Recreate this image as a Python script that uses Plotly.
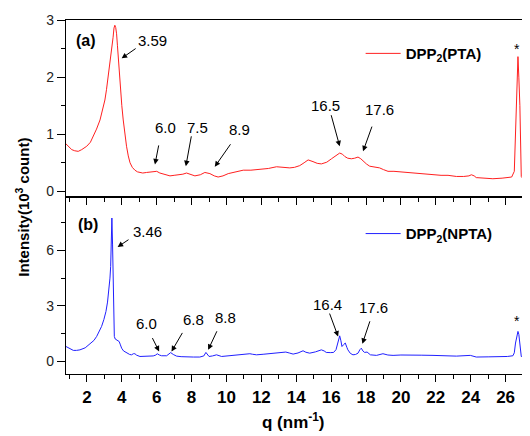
import plotly.graph_objects as go
from plotly.subplots import make_subplots

# ---------------- data ----------------
top_q = [0.8, 0.95, 1.13, 1.3, 1.5, 1.7, 1.99, 2.2, 2.36, 2.55, 2.75, 2.9, 3.03, 3.12, 3.22, 3.32, 3.42, 3.5,
         3.55, 3.6, 3.65, 3.7, 3.75, 3.8, 3.87, 3.93, 4.0, 4.08, 4.17, 4.27, 4.37, 4.47, 4.6, 4.75, 4.9, 5.04,
         5.2, 5.42, 5.6, 5.8, 6.0, 6.18, 6.4, 6.57, 6.76, 7.0, 7.33, 7.5, 7.71, 7.95, 8.19, 8.5, 8.76, 9.05,
         9.3, 9.52, 9.8, 10.1, 10.5, 10.96, 11.4, 11.91, 12.4, 12.87, 13.25, 13.63, 13.9, 14.2, 14.45, 14.68,
         14.96, 15.2, 15.44, 15.75, 16.02, 16.25, 16.49, 16.65, 16.78, 16.95, 17.16, 17.35, 17.54, 17.7,
         17.85, 18.02, 18.21, 18.5, 18.78, 19.0, 19.26, 19.6, 20.0, 20.5, 21.0, 21.4, 21.84, 22.3, 22.7,
         23.18, 23.6, 23.9, 24.04, 24.2, 24.32, 24.8, 25.27, 25.8, 26.2, 26.35, 26.5, 26.6, 26.65, 26.71,
         26.76, 26.82, 26.9, 27.0, 27.2, 27.38]
top_I = [0.83, 0.78, 0.73, 0.71, 0.70, 0.73, 0.79, 0.86, 0.96, 1.09, 1.25, 1.42, 1.6, 1.78, 2.0, 2.23, 2.47, 2.7,
         2.86, 2.91, 2.87, 2.76, 2.55, 2.30, 2.02, 1.77, 1.50, 1.25, 1.01, 0.79, 0.62, 0.50, 0.42, 0.37, 0.34,
         0.33, 0.32, 0.33, 0.34, 0.35, 0.35, 0.32, 0.30, 0.28, 0.27, 0.28, 0.29, 0.30, 0.32, 0.30, 0.27, 0.29,
         0.33, 0.31, 0.27, 0.25, 0.27, 0.31, 0.34, 0.37, 0.37, 0.38, 0.40, 0.43, 0.42, 0.41, 0.42, 0.45, 0.50,
         0.55, 0.52, 0.49, 0.48, 0.51, 0.57, 0.62, 0.67, 0.65, 0.61, 0.58, 0.57, 0.58, 0.60, 0.57, 0.52, 0.48,
         0.44, 0.42, 0.41, 0.38, 0.35, 0.35, 0.34, 0.32, 0.31, 0.30, 0.29, 0.28, 0.28, 0.26, 0.26, 0.27, 0.29,
         0.27, 0.24, 0.23, 0.22, 0.23, 0.24, 0.25, 0.35, 1.2, 1.9, 2.36, 2.0, 1.5, 0.26, 0.22, 0.22, 0.22]

bot_q = [0.8, 1.0, 1.22, 1.4, 1.6, 1.9, 2.17, 2.4, 2.56, 2.7, 2.84, 2.97, 3.09, 3.18, 3.26, 3.32, 3.36, 3.4,
         3.43, 3.47, 3.51, 3.54, 3.57, 3.62, 3.7, 3.78, 3.85, 3.92, 3.99, 4.1, 4.28, 4.45, 4.56, 4.66, 4.75,
         4.85, 5.04, 5.3, 5.51, 5.8, 5.95, 6.03, 6.15, 6.28, 6.57, 6.7, 6.8, 6.95, 7.14, 7.4, 7.71, 8.1,
         8.47, 8.7, 8.82, 8.9, 9.0, 9.2, 9.43, 9.72, 10.1, 10.58, 11.0, 11.34, 11.5, 11.72, 12.1, 12.48,
         12.9, 13.4, 13.6, 13.82, 14.1, 14.39, 14.55, 14.77, 15.1, 15.44, 15.6, 15.72, 15.95, 16.14, 16.28,
         16.36, 16.49, 16.56, 16.62, 16.72, 16.81, 16.9, 16.96, 17.1, 17.25, 17.4, 17.54, 17.65, 17.73,
         17.82, 17.92, 18.06, 18.25, 18.6, 18.97, 19.25, 19.55, 20.0, 20.5, 21.2, 21.84, 22.5, 23.18,
         23.98, 24.32, 25.0, 25.66, 26.1, 26.42, 26.5, 26.57, 26.64, 26.71, 26.76, 26.8, 26.85, 26.9,
         27.1, 27.38]
bot_I = [0.79, 0.68, 0.58, 0.58, 0.61, 0.72, 0.94, 1.12, 1.34, 1.58, 1.88, 2.25, 2.69, 3.2, 3.87, 4.5, 5.13,
         6.4, 7.76, 6.3, 4.23, 2.4, 1.34, 1.2, 1.16, 1.12, 1.06, 0.88, 0.70, 0.55, 0.43, 0.36, 0.34, 0.40,
         0.40, 0.32, 0.25, 0.26, 0.25, 0.28, 0.33, 0.40, 0.33, 0.29, 0.29, 0.36, 0.46, 0.36, 0.27, 0.24,
         0.22, 0.22, 0.22, 0.28, 0.47, 0.35, 0.25, 0.28, 0.34, 0.25, 0.28, 0.34, 0.36, 0.40, 0.37, 0.34,
         0.37, 0.40, 0.42, 0.49, 0.44, 0.38, 0.44, 0.56, 0.48, 0.43, 0.50, 0.61, 0.55, 0.47, 0.46, 0.47,
         0.62, 0.98, 1.37, 1.1, 0.79, 0.9, 0.98, 0.75, 0.61, 0.42, 0.34, 0.36, 0.43, 0.62, 0.70, 0.55, 0.47,
         0.49, 0.34, 0.31, 0.40, 0.33, 0.31, 0.33, 0.34, 0.32, 0.31, 0.30, 0.27, 0.31, 0.22, 0.23, 0.22,
         0.25, 0.29, 0.45, 0.98, 1.4, 1.61, 1.45, 0.98, 0.5, 0.25, 0.22, 0.22]

top_name = "DPP<sub>2</sub>(PTA)"
bot_name = "DPP<sub>2</sub>(NPTA)"

top_labels = ["3.59", "6.0", "7.5", "8.9", "16.5", "17.6"]
bot_labels = ["3.46", "6.0", "6.8", "8.8", "16.4", "17.6"]

# label centre, arrow tail, arrow tip (data coordinates)
top_text_pos = [(5.78, 2.65), (6.53, 1.11), (8.34, 1.11), (10.77, 1.08), (15.69, 1.50), (18.78, 1.43)]
top_tail = [(4.88, 2.52), (6.13, 0.83), (8.0, 0.99), (10.29, 0.85), (15.98, 1.36), (18.37, 1.16)]
top_tip = [(3.99, 2.33), (5.9, 0.47), (7.67, 0.44), (9.33, 0.43), (16.49, 0.79), (17.83, 0.70)]

bot_text_pos = [(5.5, 7.03), (5.42, 2.06), (8.13, 2.24), (9.96, 2.35), (15.81, 3.05), (18.44, 2.88)]
bot_tail = [(4.47, 6.64), (5.71, 1.33), (7.52, 1.61), (9.49, 1.70), (15.88, 2.66), (18.25, 2.24)]
bot_tip = [(3.76, 6.19), (6.14, 0.52), (6.85, 0.52), (8.95, 0.61), (16.4, 1.33), (17.79, 0.94)]

FONT = "Liberation Sans, Arial, sans-serif"

fig = make_subplots(rows=2, cols=1, shared_xaxes=True, vertical_spacing=0)

fig.add_trace(go.Scatter(x=top_q, y=top_I, mode="lines", name=top_name,
                         line=dict(color="#ff2020", width=1), legend="legend"), row=1, col=1)
fig.add_trace(go.Scatter(x=bot_q, y=bot_I, mode="lines", name=bot_name,
                         line=dict(color="#2020ff", width=1), legend="legend2"), row=2, col=1)

annotations = []
for lab, (tx, ty), (ax_, ay_), (px, py) in zip(top_labels, top_text_pos, top_tail, top_tip):
    annotations.append(dict(x=tx, y=ty, xref="x", yref="y", text=lab, showarrow=False,
                            font=dict(family=FONT, size=15, color="black")))
    annotations.append(dict(x=px, y=py, xref="x", yref="y", ax=ax_, ay=ay_, axref="x", ayref="y",
                            text="", showarrow=True, arrowhead=2, arrowsize=1.1, arrowwidth=1,
                            arrowcolor="black", standoff=0, startstandoff=0))
for lab, (tx, ty), (ax_, ay_), (px, py) in zip(bot_labels, bot_text_pos, bot_tail, bot_tip):
    annotations.append(dict(x=tx, y=ty, xref="x2", yref="y2", text=lab, showarrow=False,
                            font=dict(family=FONT, size=15, color="black")))
    annotations.append(dict(x=px, y=py, xref="x2", yref="y2", ax=ax_, ay=ay_, axref="x2", ayref="y2",
                            text="", showarrow=True, arrowhead=2, arrowsize=1.1, arrowwidth=1,
                            arrowcolor="black", standoff=0, startstandoff=0))

annotations += [
    dict(x=26.95, y=2.5, xref="x", yref="y", xanchor="right", text="*", showarrow=False,
         font=dict(family=FONT, size=14, color="black")),
    dict(x=26.95, y=2.15, xref="x2", yref="y2", xanchor="right", text="*", showarrow=False,
         font=dict(family=FONT, size=14, color="black")),
    dict(x=1.95, y=2.65, xref="x", yref="y", text="<b>(a)</b>", showarrow=False,
         font=dict(family=FONT, size=16, color="black")),
    dict(x=2.05, y=7.4, xref="x2", yref="y2", text="<b>(b)</b>", showarrow=False,
         font=dict(family=FONT, size=16, color="black")),
    dict(x=-0.093, y=0.472, xref="paper", yref="paper", xanchor="center", yanchor="middle",
         text="<b>Intensity(10<sup>3</sup> count)</b>",
         textangle=-90, showarrow=False, font=dict(family=FONT, size=15, color="black")),
    dict(x=0.49, y=-0.134, xref="paper", yref="paper", xanchor="center", yanchor="middle",
         text="<b>q (nm<sup>-1</sup>)</b>",
         showarrow=False, font=dict(family=FONT, size=17, color="black")),
]

xcommon = dict(range=[0.8, 27.4], showline=True, linecolor="black", linewidth=1.2, mirror=True,
               ticks="outside", ticklen=7, tickwidth=1, tickcolor="black", tick0=0, dtick=2,
               minor=dict(dtick=1, ticklen=4, ticks="outside", tickcolor="black"),
               showgrid=False, zeroline=False)
fig.update_xaxes(**xcommon, showticklabels=False, row=1, col=1)
fig.update_xaxes(**xcommon, showticklabels=True,
                 tickfont=dict(family=FONT, size=17, color="black", weight="bold"), row=2, col=1)

ycommon = dict(showline=True, linecolor="black", linewidth=1.2, mirror=False, ticks="outside",
               ticklen=8, tickwidth=1, tickcolor="black", showgrid=False, zeroline=False,
               tickfont=dict(family=FONT, size=14, color="#222"))
fig.update_yaxes(**ycommon, range=[-0.1, 3.002], tick0=0, dtick=1,
                 minor=dict(dtick=0.5, ticklen=4, ticks="outside", tickcolor="black"), row=1, col=1)
fig.update_yaxes(**ycommon, range=[-0.7, 8.9], tick0=0, dtick=3,
                 minor=dict(dtick=1.5, ticklen=4, ticks="outside", tickcolor="black"), row=2, col=1)

legend_common = dict(bgcolor="rgba(0,0,0,0)", borderwidth=0, xanchor="left", yanchor="middle",
                     font=dict(family=FONT, size=15, color="black", weight="bold"), itemwidth=35)
fig.update_layout(
    width=522, height=428, margin=dict(l=58, r=0, t=12, b=62),
    paper_bgcolor="white", plot_bgcolor="white",
    annotations=annotations,
    legend=dict(**legend_common, x=0.635, y=0.905),
    legend2=dict(**legend_common, x=0.635, y=0.396),
    showlegend=True,
)

fig.write_html("out.html")
